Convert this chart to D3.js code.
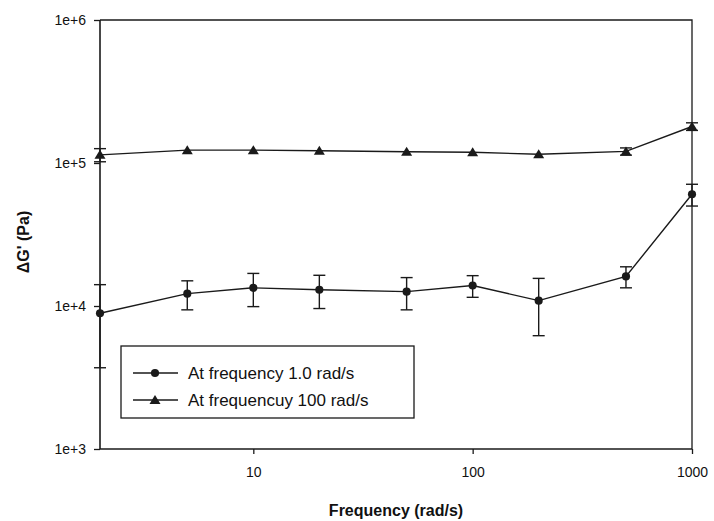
<!DOCTYPE html>
<html lang="en">
<head>
<meta charset="UTF-8">
<title>Delta G' vs frequency</title>
<script src="https://d3js.org/d3.v7.min.js"></script>
<style>
    body { margin: 0; background: #fff; }
    text { font-family: "Liberation Sans", Arial, sans-serif; fill: #111; }
</style>
</head>
<body>
<svg width="714" height="521" id="svg1"></svg>
<script>
    // data
    var freqs = [2, 5, 10, 20, 50, 100, 200, 500, 1000];
    var series1 = [8900, 12200, 13400, 13000, 12600, 13900, 10900, 16100, 60500];
    var error1 = [5200, 2800, 3500, 3400, 3200, 2400, 4700, 2700, 10500];
    var series2 = [114000, 123000, 123000, 121800, 120000, 119000, 115000, 120500, 180000];
    var error2 = [12000, 0, 0, 0, 0, 0, 0, 7000, 11000];
    var seriesNames = ["At frequency 1.0 rad/s", "At frequencuy 100 rad/s"];
    var yTicks = [1e3, 1e4, 1e5, 1e6];
    var yTickLabels = ["1e+3", "1e+4", "1e+5", "1e+6"];
    var xTicks = [10, 100, 1000];

    var svg = d3.select("#svg1");
    var pLeft = 100, pRight = 692, pTop = 20, pBottom = 449;

    var x = d3.scaleLog().domain([2, 1000]).range([pLeft, pRight]);
    var y = d3.scaleLog().domain([1e3, 1e6]).range([pBottom, pTop]);
    var ink = "#1a1a1a";

    // frame: top and right lines
    svg.append("path")
        .attr("d", "M" + pLeft + "," + pTop + "H" + pRight + "V" + pBottom)
        .attr("fill", "none").attr("stroke", ink).attr("stroke-width", 1.3);

    // y axis
    var yAxis = svg.append("g")
        .attr("transform", "translate(" + pLeft + ",0)")
        .call(d3.axisLeft(y).tickValues(yTicks).tickSize(6).tickPadding(8)
            .tickFormat(function (d, i) { return yTickLabels[i]; }));
    // x axis
    var xAxis = svg.append("g")
        .attr("transform", "translate(0," + pBottom + ")")
        .call(d3.axisBottom(x).tickValues(xTicks).tickSize(5).tickPadding(13)
            .tickFormat(d3.format("d")));
    [xAxis, yAxis].forEach(function (a) {
        a.attr("font-size", 14).attr("font-family", "'Liberation Sans', Arial, sans-serif");
        a.select(".domain").attr("stroke", ink).attr("stroke-width", 1.6);
        a.selectAll(".tick line").attr("stroke", ink).attr("stroke-width", 1.3);
        a.selectAll(".tick text").attr("fill", ink);
    });
    xAxis.select(".domain").attr("d", "M" + pLeft + ",0H" + pRight);
    yAxis.select(".domain").attr("d", "M0," + pTop + "V" + pBottom);

    // axis titles
    svg.append("text")
        .attr("x", 396).attr("y", 516)
        .attr("text-anchor", "middle")
        .attr("font-size", "16px").attr("font-weight", "bold")
        .text("Frequency (rad/s)");
    svg.append("text")
        .attr("transform", "translate(29,242) rotate(-90)")
        .attr("text-anchor", "middle")
        .attr("font-size", "16px").attr("font-weight", "bold")
        .text("\u0394G' (Pa)");

    function drawSeries(vals, errs, marker) {
        var pts = freqs.map(function (f, i) { return { f: f, v: vals[i], e: errs[i] }; });
        var g = svg.append("g");
        g.append("path")
            .datum(pts)
            .attr("fill", "none").attr("stroke", ink).attr("stroke-width", 1.4)
            .attr("d", d3.line().x(function (d) { return x(d.f); }).y(function (d) { return y(d.v); }));
        var eb = g.selectAll(".err").data(pts.filter(function (d) { return d.e > 0; }))
            .enter().append("g").attr("stroke", ink).attr("stroke-width", 1.4);
        eb.append("line")
            .attr("x1", function (d) { return x(d.f); }).attr("x2", function (d) { return x(d.f); })
            .attr("y1", function (d) { return y(d.v + d.e); }).attr("y2", function (d) { return y(d.v - d.e); });
        [1, -1].forEach(function (s) {
            eb.append("line")
                .attr("x1", function (d) { return x(d.f) - 6; }).attr("x2", function (d) { return x(d.f) + 6; })
                .attr("y1", function (d) { return y(d.v + s * d.e); }).attr("y2", function (d) { return y(d.v + s * d.e); });
        });
        g.selectAll(".mk").data(pts).enter().append("path")
            .attr("transform", function (d) { return "translate(" + x(d.f) + "," + y(d.v) + ")"; })
            .attr("d", marker)
            .attr("fill", ink);
    }

    var circleSym = d3.symbol().type(d3.symbolCircle).size(52)();
    var triSym = "M0,-5L5.5,4L-5.5,4Z";
    drawSeries(series1, error1, circleSym);
    drawSeries(series2, error2, triSym);

    // legend
    var lg = svg.append("g");
    lg.append("rect")
        .attr("x", 121).attr("y", 346).attr("width", 293).attr("height", 72)
        .attr("fill", "#fff").attr("stroke", ink).attr("stroke-width", 1.3);
    [circleSym, triSym].forEach(function (m, i) {
        var yy = 373 + i * 27;
        lg.append("line").attr("x1", 133).attr("x2", 178).attr("y1", yy).attr("y2", yy)
            .attr("stroke", ink).attr("stroke-width", 1.4);
        lg.append("path").attr("d", m).attr("transform", "translate(155," + yy + ")").attr("fill", ink);
        lg.append("text").attr("x", 188).attr("y", yy + 6)
            .attr("font-size", "17px").text(seriesNames[i]);
    });
</script>
</body>
</html>
